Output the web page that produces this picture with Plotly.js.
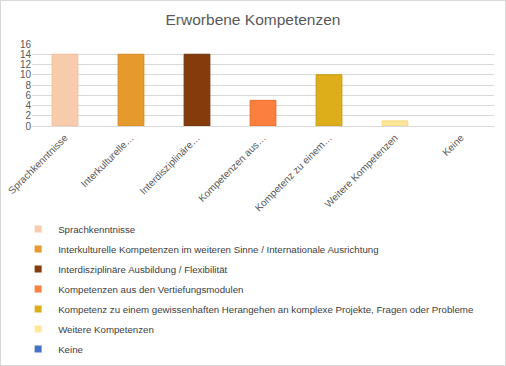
<!DOCTYPE html>
<html><head><meta charset="utf-8">
<script src="https://cdn.plot.ly/plotly-3.0.1.min.js"></script>
<style>html,body{margin:0;padding:0;background:#fff}#c{width:504px;height:364px;border:1px solid #d9d9d9}</style>
</head><body><div id="c"></div>
<script>
const categories = ["Sprachkenntnisse","Interkulturelle Kompetenzen im weiteren Sinne / Internationale Ausrichtung","Interdisziplinäre Ausbildung / Flexibilität","Kompetenzen aus den Vertiefungsmodulen","Kompetenz zu einem gewissenhaften Herangehen an komplexe Projekte, Fragen oder Probleme","Weitere Kompetenzen","Keine"];
const tickLabels = ["Sprachkenntnisse","Interkulturelle…","Interdisziplinäre…","Kompetenzen aus…","Kompetenz zu einem…","Weitere Kompetenzen","Keine"];
const values = [14,14,14,5,10,1,0];
const colors = ["#F8CBAD","#E69A2E","#843C0C","#FB7F3F","#DDAE1A","#FFE699","#4472C4"];
const lineColors = ["#F4BE9A","#D88A1E","#6E300A","#E86A2A","#C89A10","#F5D97E","#2F5597"];
const font = "Liberation Sans, Arial, sans-serif";
const bars = categories.map((name,i)=>({
  type:"bar", name:name, x:[tickLabels[i]], y:[values[i]],
  marker:{color:colors[i], line:{color:lineColors[i], width: values[i] > 0 ? 1 : 0}},
  width:0.39, showlegend:false, hoverinfo:"y"
}));
const legendEntries = categories.map((name,i)=>({
  type:"scatter", mode:"markers", name:name, x:[null], y:[null],
  marker:{color:colors[i], symbol:"square", size:7, line:{width:0}},
  legendgroup:"g"+i, showlegend:true, hoverinfo:"skip"
}));
const layout = {
  width:504, height:364,
  margin:{l:31, r:11, t:43, b:239, autoexpand:false},
  paper_bgcolor:"#fff", plot_bgcolor:"#fff",
  title:{text:"Erworbene Kompetenzen", font:{family:font, size:15.5, color:"#595959"}, x:0.5, xanchor:"center", y:0.95, yanchor:"middle"},
  barmode:"overlay",
  xaxis:{type:"category", categoryorder:"array", categoryarray:tickLabels, tickangle:-45, tickfont:{family:font, size:10, color:"#595959"}, showgrid:false, showline:false, zeroline:false, ticks:"", ticklabelstandoff:3, automargin:false},
  yaxis:{range:[0,16], tick0:0, dtick:2, gridcolor:"#d9d9d9", gridwidth:1, zeroline:true, zerolinecolor:"#d9d9d9", zerolinewidth:1, tickfont:{family:font, size:10, color:"#595959"}, ticks:"", showline:false, fixedrange:true, automargin:false},
  showlegend:true,
  legend:{orientation:"v", x:-0.03, xanchor:"left", y:-1.08, yanchor:"top", font:{family:font, size:9.7, color:"#404040"}, tracegroupgap:1, traceorder:"grouped", bgcolor:"rgba(0,0,0,0)"}
};
Plotly.newPlot("c", bars.concat(legendEntries), layout, {displayModeBar:false, staticPlot:true});
</script></body></html>
